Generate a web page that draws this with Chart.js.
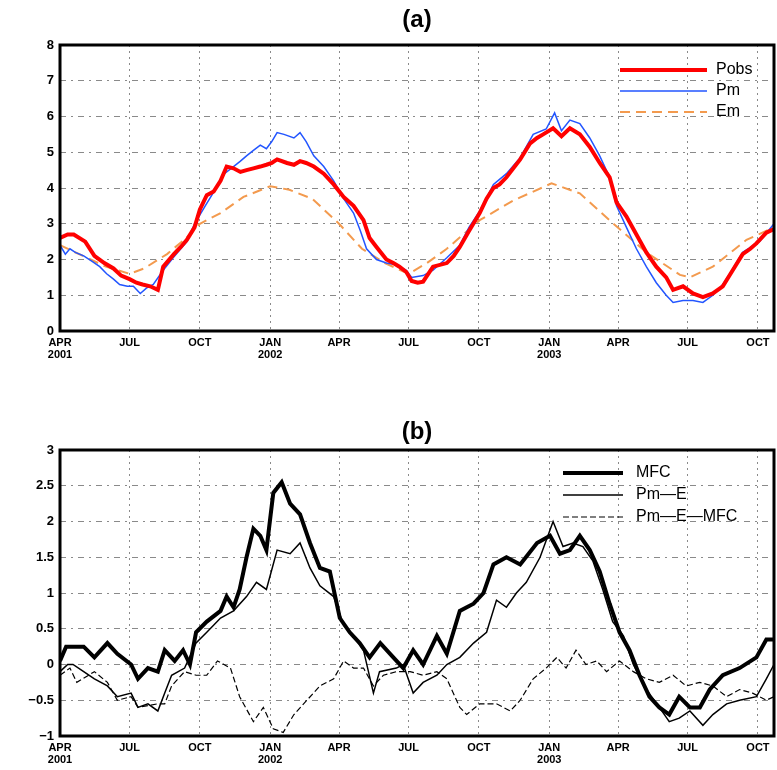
<!DOCTYPE html>
<html lang="en">
<head>
    <meta charset="utf-8">
    <title>Precipitation and moisture budget</title>
    <script src="https://cdn.jsdelivr.net/npm/chart.js"></script>
    <style>
        body, html { margin: 0; padding: 0; background: white; }
        canvas { display: block; }
    </style>
</head>
<body>
    <canvas id="chartA" width="777" height="385"></canvas>
    <canvas id="chartB" width="777" height="385"></canvas>
    <script>
        // x axis: days since 1 Apr 2001
        const tickDays = [0, 91, 183, 275, 365, 456, 548, 640, 730, 821, 913];
        const tickNames = [['APR', '2001'], 'JUL', 'OCT', ['JAN', '2002'], 'APR', 'JUL', 'OCT', ['JAN', '2003'], 'APR', 'JUL', 'OCT'];
        const lastDay = 934;

        // (a) Pobs
        const pobsDays = [0, 10, 18, 33, 45, 58, 70, 80, 91, 100, 108, 118, 128, 135, 149, 158, 166, 176, 183, 192, 201, 210, 218, 227, 236, 244, 253, 262, 270, 277, 284, 297, 306, 314, 322, 332, 345, 358, 371, 384, 397, 405, 414, 427, 436, 444, 453, 460, 468, 475, 488, 506, 515, 523, 535, 549, 558, 567, 575, 584, 593, 602, 615, 624, 632, 645, 656, 667, 680, 693, 706, 719, 728, 741, 754, 767, 780, 793, 802, 815, 828, 841, 854, 867, 880, 893, 903, 911, 924, 934];
        const pobsVals = [2.6, 2.7, 2.7, 2.5, 2.1, 1.9, 1.75, 1.55, 1.45, 1.35, 1.3, 1.25, 1.15, 1.8, 2.15, 2.35, 2.55, 2.9, 3.4, 3.8, 3.9, 4.2, 4.6, 4.55, 4.45, 4.5, 4.55, 4.6, 4.65, 4.7, 4.8, 4.7, 4.65, 4.75, 4.7, 4.6, 4.4, 4.1, 3.75, 3.5, 3.1, 2.6, 2.35, 2.0, 1.9, 1.8, 1.65, 1.4, 1.35, 1.38, 1.8, 1.9, 2.1, 2.35, 2.8, 3.3, 3.7, 4.0, 4.1, 4.3, 4.55, 4.8, 5.25, 5.4, 5.5, 5.67, 5.45, 5.67, 5.5, 5.15, 4.7, 4.3, 3.6, 3.2, 2.7, 2.2, 1.8, 1.5, 1.15, 1.25, 1.05, 0.95, 1.05, 1.25, 1.7, 2.15, 2.3, 2.45, 2.75, 2.85];

        // (a) Pm
        const pmDays = [0, 7, 13, 20, 31, 42, 52, 61, 70, 78, 88, 96, 105, 113, 122, 135, 148, 158, 166, 176, 190, 200, 215, 227, 236, 244, 253, 262, 270, 277, 284, 293, 306, 314, 322, 332, 345, 358, 371, 384, 393, 401, 414, 427, 440, 453, 460, 475, 488, 506, 523, 535, 549, 567, 584, 602, 619, 636, 647, 656, 667, 680, 693, 706, 719, 728, 741, 754, 767, 780, 793, 802, 815, 828, 841, 854, 867, 876, 893, 915, 934];
        const pmVals = [2.4, 2.15, 2.3, 2.2, 2.1, 1.95, 1.8, 1.6, 1.45, 1.3, 1.25, 1.25, 1.05, 1.2, 1.3, 1.7, 2.05, 2.3, 2.5, 3.0, 3.5, 3.85, 4.4, 4.6, 4.75, 4.9, 5.05, 5.2, 5.1, 5.3, 5.55, 5.5, 5.4, 5.55, 5.3, 4.9, 4.6, 4.2, 3.7, 3.3, 2.8, 2.3, 2.0, 1.9, 1.85, 1.7, 1.5, 1.55, 1.7, 2.05, 2.4, 2.9, 3.35, 4.1, 4.4, 4.85, 5.5, 5.65, 6.1, 5.6, 5.9, 5.8, 5.4, 4.9, 4.3, 3.5, 2.9, 2.3, 1.8, 1.35, 1.0, 0.8, 0.85, 0.85, 0.8, 1.0, 1.3, 1.6, 2.2, 2.5, 3.0];

        // (a) Em
        const emDays = [0, 30, 60, 91, 110, 140, 165, 183, 210, 240, 275, 300, 330, 365, 395, 425, 456, 480, 506, 549, 593, 643, 680, 724, 767, 811, 824, 854, 898, 934];
        const emVals = [2.4, 2.1, 1.8, 1.6, 1.75, 2.15, 2.6, 3.0, 3.3, 3.75, 4.05, 3.95, 3.7, 3.0, 2.3, 1.9, 1.6, 1.9, 2.3, 3.1, 3.65, 4.13, 3.85, 3.0, 2.2, 1.57, 1.5, 1.8, 2.55, 2.9];

        // (b) MFC
        const mfcDays = [0, 8, 31, 45, 62, 75, 93, 102, 115, 128, 137, 150, 161, 170, 178, 192, 210, 218, 227, 235, 244, 253, 262, 270, 279, 290, 301, 314, 327, 340, 353, 366, 379, 392, 405, 419, 436, 449, 462, 475, 493, 506, 523, 541, 554, 567, 584, 602, 624, 641, 654, 667, 680, 693, 706, 719, 732, 745, 758, 771, 784, 797, 810, 824, 837, 850, 867, 889, 911, 924, 934];
        const mfcVals = [0.05, 0.25, 0.25, 0.1, 0.3, 0.15, 0.0, -0.2, -0.05, -0.1, 0.2, 0.05, 0.2, 0.0, 0.45, 0.6, 0.75, 0.95, 0.8, 1.05, 1.5, 1.9, 1.8, 1.6, 2.4, 2.55, 2.25, 2.1, 1.7, 1.35, 1.3, 0.65, 0.45, 0.3, 0.1, 0.3, 0.1, -0.05, 0.2, 0.0, 0.4, 0.15, 0.75, 0.85, 1.0, 1.4, 1.5, 1.4, 1.7, 1.8, 1.55, 1.6, 1.8, 1.6, 1.3, 0.85, 0.45, 0.2, -0.15, -0.45, -0.6, -0.7, -0.45, -0.6, -0.6, -0.35, -0.15, -0.05, 0.1, 0.35, 0.35];

        // (b) Pm-E
        const pmeDays = [0, 10, 17, 31, 45, 62, 75, 93, 102, 115, 128, 137, 146, 163, 178, 192, 210, 227, 244, 257, 270, 284, 301, 314, 327, 340, 358, 371, 384, 397, 410, 418, 440, 449, 462, 475, 493, 506, 523, 541, 558, 571, 584, 597, 610, 628, 645, 658, 671, 684, 697, 710, 723, 737, 750, 767, 784, 797, 810, 824, 841, 854, 872, 889, 911, 924, 934];
        const pmeVals = [-0.1, 0.0, 0.0, -0.1, -0.2, -0.3, -0.45, -0.4, -0.6, -0.55, -0.65, -0.4, -0.15, -0.05, 0.3, 0.45, 0.65, 0.75, 0.95, 1.15, 1.05, 1.6, 1.55, 1.7, 1.35, 1.1, 0.95, 0.55, 0.4, 0.2, -0.4, -0.1, -0.05, 0.0, -0.4, -0.25, -0.15, 0.0, 0.1, 0.3, 0.45, 0.9, 0.8, 1.0, 1.15, 1.5, 2.0, 1.65, 1.7, 1.65, 1.45, 1.05, 0.6, 0.4, 0.0, -0.35, -0.6, -0.8, -0.75, -0.65, -0.85, -0.7, -0.55, -0.5, -0.45, -0.2, 0.0];

        // (b) Pm-E-MFC
        const resDays = [0, 13, 22, 45, 62, 75, 93, 102, 128, 137, 146, 163, 178, 192, 206, 223, 235, 253, 266, 279, 292, 306, 323, 340, 358, 371, 384, 397, 410, 423, 440, 458, 475, 493, 506, 523, 532, 549, 571, 589, 602, 619, 636, 650, 662, 675, 688, 702, 715, 732, 750, 767, 784, 802, 819, 837, 854, 872, 889, 906, 924, 934];
        const resVals = [-0.15, -0.05, -0.25, -0.1, -0.25, -0.5, -0.45, -0.6, -0.55, -0.55, -0.3, -0.1, -0.15, -0.15, 0.05, -0.05, -0.45, -0.8, -0.6, -0.9, -0.95, -0.7, -0.5, -0.3, -0.2, 0.05, -0.05, -0.05, -0.3, -0.15, -0.1, -0.1, -0.15, -0.1, -0.2, -0.6, -0.7, -0.55, -0.55, -0.65, -0.5, -0.2, -0.05, 0.1, -0.05, 0.2, 0.0, 0.05, -0.1, 0.05, -0.1, -0.2, -0.25, -0.15, -0.3, -0.25, -0.3, -0.45, -0.35, -0.4, -0.5, -0.45];

        function pts(days, vals) {
            return days.map((d, i) => ({ x: d, y: vals[i] }));
        }

        // frame, title and legend drawn by hand
        const decorPlugin = {
            id: 'decor',
            afterDatasetsDraw(chart, args, opts) {
                const a = chart.chartArea;
                const ctx = chart.ctx;
                ctx.save();
                ctx.strokeStyle = '#000';
                ctx.lineWidth = 3;
                ctx.setLineDash([]);
                ctx.strokeRect(a.left, a.top, a.right - a.left, a.bottom - a.top);

                ctx.fillStyle = '#000';
                ctx.font = 'bold 24px "Liberation Sans", Arial, sans-serif';
                ctx.textAlign = 'center';
                ctx.textBaseline = 'middle';
                ctx.fillText(opts.title, (a.left + a.right) / 2, opts.titleY);

                ctx.font = '16px "Liberation Sans", Arial, sans-serif';
                ctx.textAlign = 'left';
                opts.legend.forEach((dsIndex, i) => {
                    const ds = chart.data.datasets[dsIndex];
                    const y = opts.legendY + i * opts.legendGap;
                    ctx.strokeStyle = ds.borderColor;
                    ctx.lineWidth = ds.borderWidth;
                    ctx.setLineDash(ds.borderDash || []);
                    ctx.beginPath();
                    ctx.moveTo(opts.lineX1, y);
                    ctx.lineTo(opts.lineX2, y);
                    ctx.stroke();
                    ctx.fillText(ds.label, opts.textX, y);
                });
                ctx.restore();
            }
        };

        function makeOptions(yMin, yMax, yStep, padTop, xHeight, decor) {
            return {
                responsive: false,
                animation: false,
                layout: { padding: { top: padTop, right: 3, left: 0, bottom: 0 } },
                elements: { point: { radius: 0 }, line: { tension: 0 } },
                plugins: {
                    legend: { display: false },
                    tooltip: { enabled: false },
                    decor: decor
                },
                scales: {
                    x: {
                        type: 'linear',
                        min: 0,
                        max: lastDay,
                        afterBuildTicks: axis => { axis.ticks = tickDays.map(v => ({ value: v })); },
                        afterFit: s => { s.height = xHeight; },
                        grid: { color: '#8a8a8a', lineWidth: 1, drawTicks: false },
                        border: { display: false, dash: [2, 4] },
                        ticks: {
                            color: '#000',
                            padding: 6,
                            maxRotation: 0,
                            autoSkip: false,
                            font: { family: '"Liberation Sans", Arial, sans-serif', size: 11, weight: 'bold', lineHeight: 1.1 },
                            callback: v => tickNames[tickDays.indexOf(v)]
                        }
                    },
                    y: {
                        min: yMin,
                        max: yMax,
                        afterFit: s => { s.width = 60; },
                        grid: { color: '#8a8a8a', lineWidth: 1, drawTicks: false },
                        border: { display: false, dash: [6, 5, 2, 5] },
                        ticks: {
                            stepSize: yStep,
                            color: '#000',
                            padding: 6,
                            font: { family: '"Liberation Sans", Arial, sans-serif', size: 13, weight: 'bold' },
                            callback: v => String(v).replace('-', '\u2212')
                        }
                    }
                }
            };
        }

        new Chart(document.getElementById('chartA'), {
            type: 'line',
            data: {
                datasets: [
                    { label: 'Pobs', data: pts(pobsDays, pobsVals), borderColor: '#ff0000', borderWidth: 4, order: 0 },
                    { label: 'Pm', data: pts(pmDays, pmVals), borderColor: '#2255ff', borderWidth: 1.5, order: 1 },
                    { label: 'Em', data: pts(emDays, emVals), borderColor: '#f39a4e', borderWidth: 2, borderDash: [10, 6], order: 2 }
                ]
            },
            options: makeOptions(0, 8, 1, 45, 54, {
                title: '(a)', titleY: 20, legend: [0, 1, 2],
                legendY: 70, legendGap: 21, lineX1: 620, lineX2: 707, textX: 716
            }),
            plugins: [decorPlugin]
        });

        new Chart(document.getElementById('chartB'), {
            type: 'line',
            data: {
                datasets: [
                    { label: 'MFC', data: pts(mfcDays, mfcVals), borderColor: '#000', borderWidth: 4, order: 0 },
                    { label: 'Pm\u2014E', data: pts(pmeDays, pmeVals), borderColor: '#000', borderWidth: 1.5, order: 1 },
                    { label: 'Pm\u2014E\u2014MFC', data: pts(resDays, resVals), borderColor: '#000', borderWidth: 1.2, borderDash: [6, 3], order: 2 }
                ]
            },
            options: makeOptions(-1, 3, 0.5, 65, 34, {
                title: '(b)', titleY: 47, legend: [0, 1, 2],
                legendY: 88, legendGap: 22, lineX1: 563, lineX2: 623, textX: 636
            }),
            plugins: [decorPlugin]
        });
    </script>
</body>
</html>
